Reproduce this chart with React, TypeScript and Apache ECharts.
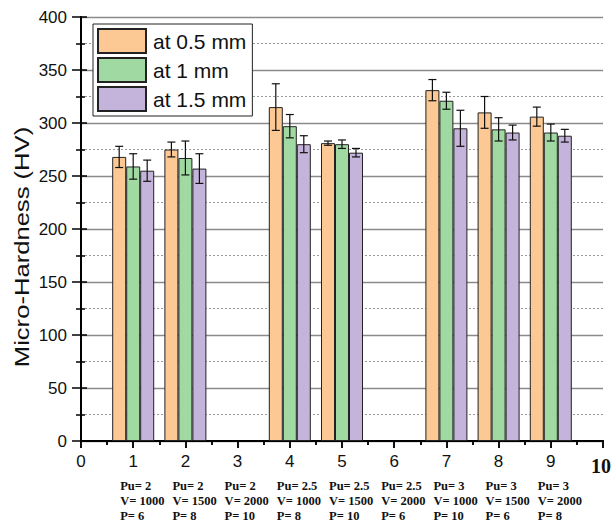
import { useEffect, useRef } from "react";
import * as echarts from "echarts";

// Sample positions on the x axis (samples 3 and 6 have no measurements)
const positions = [1, 2, 4, 5, 7, 8, 9];

const seriesNames = ["at 0.5 mm", "at 1 mm", "at 1.5 mm"];

// Micro-hardness (HV) and standard deviation at each depth
const hv05 = [268, 275, 315, 281, 331, 310, 306];
const err05 = [10, 7, 22, 2, 10, 15, 9];
const hv10 = [259, 267, 297, 280, 321, 294, 291];
const err10 = [12, 16, 11, 4, 8, 11, 8];
const hv15 = [255, 257, 280, 272, 295, 291, 288];
const err15 = [10, 14, 8, 4, 17, 7, 6];

// Process parameters printed under each sample number
const sampleIds = [1, 2, 3, 4, 5, 6, 7, 8, 9];
const pulseLabels = ["Pu= 2", "Pu= 2", "Pu= 2", "Pu= 2.5", "Pu= 2.5", "Pu= 2.5", "Pu= 3", "Pu= 3", "Pu= 3"];
const speedLabels = ["V= 1000", "V= 1500", "V= 2000", "V= 1000", "V= 1500", "V= 2000", "V= 1000", "V= 1500", "V= 2000"];
const powerLabels = ["P= 6", "P= 8", "P= 10", "P= 8", "P= 10", "P= 6", "P= 10", "P= 6", "P= 8"];

const yTitle = "Micro-Hardness (HV)";

const colors = ["#FCC894", "#A0D9A2", "#C4B3DA"];
const BAR_W = 14;
const SANS = "Liberation Sans, Arial, sans-serif";
const SERIF = "Liberation Serif, Times New Roman, serif";

const values = [hv05, hv10, hv15];
const errors = [err05, err10, err15];

function errorSeries(k: number) {
  const offset = (k - 1) * BAR_W;
  const hv = values[k];
  const err = errors[k];
  return {
    type: "custom",
    z: 5,
    silent: true,
    encode: { x: 0, y: [1, 2] },
    data: positions.map((x, i) => [x, hv[i] - err[i], hv[i] + err[i]]),
    renderItem: (_params: any, api: any) => {
      const x = api.value(0);
      const lo = api.coord([x, api.value(1)]);
      const hi = api.coord([x, api.value(2)]);
      const cx = lo[0] + offset;
      const half = 4;
      const style = { stroke: "#111", lineWidth: 1.2 };
      return {
        type: "group",
        children: [
          { type: "line", shape: { x1: cx, y1: hi[1], x2: cx, y2: lo[1] }, style },
          { type: "line", shape: { x1: cx - half, y1: hi[1], x2: cx + half, y2: hi[1] }, style },
          { type: "line", shape: { x1: cx - half, y1: lo[1], x2: cx + half, y2: lo[1] }, style },
        ],
      };
    },
  };
}

export default function App() {
  const ref = useRef<HTMLDivElement>(null);

  useEffect(() => {
    if (!ref.current) return;
    const chart = echarts.init(ref.current, undefined, { renderer: "svg" });

    const axisLine = { show: true, lineStyle: { color: "#000", width: 2 } };

    chart.setOption({
      animation: false,
      backgroundColor: "#fff",
      grid: { left: 81, right: 5, top: 17, bottom: 85, containLabel: false },
      legend: {
        data: seriesNames,
        orient: "vertical",
        left: 93,
        top: 24,
        itemWidth: 48,
        itemHeight: 24,
        itemGap: 3,
        padding: [4, 6, 4, 4],
        borderColor: "#222",
        borderWidth: 1,
        backgroundColor: "#fff",
        icon: "rect",
        textStyle: { fontSize: 21, color: "#111", fontFamily: SANS, padding: [0, 0, 0, 2] },
      },
      xAxis: [
        {
          type: "value",
          position: "bottom",
          min: 0,
          max: 10,
          interval: 1,
          axisLine,
          axisTick: { show: true, inside: false, length: 7, lineStyle: { color: "#000", width: 1.5 } },
          minorTick: { show: true, splitNumber: 2, length: 4, lineStyle: { color: "#000", width: 1.5 } },
          splitLine: { show: false },
          axisLabel: {
            fontSize: 17,
            color: "#111",
            fontFamily: SANS,
            margin: 12,
            formatter: (v: number) => (v === 10 ? "{b|10}" : String(v)),
            rich: {
              b: {
                fontFamily: SERIF,
                fontWeight: "bold",
                fontSize: 20,
                color: "#111",
                padding: [3, 4, 0, 0],
              },
            },
          },
        },
        {
          type: "value",
          position: "top",
          min: 0,
          max: 10,
          interval: 1,
          axisLine,
          axisTick: { show: true, inside: true, length: 7, lineStyle: { color: "#000", width: 1.5 } },
          minorTick: { show: true, splitNumber: 2, length: 4, lineStyle: { color: "#000", width: 1.5 } },
          splitLine: { show: false },
          axisLabel: { show: false },
        },
      ],
      yAxis: [
        {
          type: "value",
          position: "left",
          min: 0,
          max: 400,
          interval: 50,
          axisLine,
          axisTick: { show: true, inside: false, length: 9, lineStyle: { color: "#000", width: 1.5 } },
          minorTick: { show: true, splitNumber: 2, length: 5, lineStyle: { color: "#000", width: 1.5 } },
          splitLine: { show: true, lineStyle: { color: "#8a8a8a", width: 1.3 } },
          minorSplitLine: { show: true, lineStyle: { color: "#999", width: 1, type: [2, 2] } },
          axisLabel: { fontSize: 17, color: "#111", fontFamily: SANS, margin: 14 },
        },
        {
          type: "value",
          position: "right",
          min: 0,
          max: 400,
          interval: 50,
          axisLine,
          axisTick: { show: true, inside: false, length: 6, lineStyle: { color: "#000", width: 1.5 } },
          minorTick: { show: true, splitNumber: 2, length: 4, lineStyle: { color: "#000", width: 1.5 } },
          splitLine: { show: false },
          axisLabel: { show: false },
        },
      ],
      series: [
        ...seriesNames.map((name, k) => ({
          name,
          type: "bar",
          xAxisIndex: 0,
          yAxisIndex: 0,
          barWidth: BAR_W,
          barGap: "0%",
          itemStyle: { color: colors[k], borderColor: "#222", borderWidth: 1 },
          data: positions.map((x, i) => [x, values[k][i]]),
        })),
        ...[0, 1, 2].map((k) => errorSeries(k)),
      ],
    });

    // Process-parameter captions under each sample number, placed on the axis scale
    const baseY = chart.convertToPixel({ yAxisIndex: 0 }, 0) as number;
    const captions = sampleIds.map((id, i) => {
      const px = chart.convertToPixel({ xAxisIndex: 0 }, id) as number;
      return {
        type: "text",
        x: px - 13,
        y: baseY + 37,
        silent: true,
        style: {
          text: [pulseLabels[i], speedLabels[i], powerLabels[i]].join("\n"),
          fontFamily: SERIF,
          fontWeight: "bold",
          fontSize: 12.5,
          lineHeight: 15,
          fill: "#111",
          align: "left",
          verticalAlign: "top",
        },
      };
    });

    chart.setOption({
      graphic: [
        ...captions,
        {
          type: "text",
          x: 22,
          y: 247,
          rotation: Math.PI / 2,
          scaleX: 1.22,
          silent: true,
          style: {
            text: yTitle,
            fontFamily: SANS,
            fontSize: 21,
            fill: "#111",
            align: "center",
            verticalAlign: "middle",
          },
        },
      ],
    });

    return () => chart.dispose();
  }, []);

  return (
    <div
      ref={ref}
      style={{ position: "fixed", left: 0, top: 0, width: 614, height: 526 }}
    />
  );
}
